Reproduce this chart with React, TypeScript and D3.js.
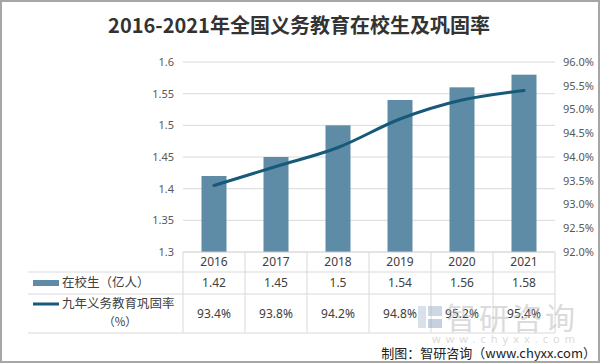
import React, { useEffect, useRef } from 'react';
import * as d3 from 'd3';

const years = ['2016', '2017', '2018', '2019', '2020', '2021'];
const students = [1.42, 1.45, 1.5, 1.54, 1.56, 1.58];
const rates = [93.4, 93.8, 94.2, 94.8, 95.2, 95.4];
const leftTicks = [1.3, 1.35, 1.4, 1.45, 1.5, 1.55, 1.6];
const rightTicks = [92, 92.5, 93, 93.5, 94, 94.5, 95, 95.5, 96];

const W = 600;
const H = 363;
const barColor = '#5e8ca6';
const lineColor = '#17597a';
const gridColor = '#d9d9d9';
const font = '"Noto Sans CJK SC", "Noto Sans", sans-serif';
const numFont = '"Noto Sans", "Noto Sans CJK SC", sans-serif';

export default function App() {
  const svgRef = useRef<SVGSVGElement>(null);

  useEffect(() => {
    if (!svgRef.current) return;
    const svg = d3.select(svgRef.current);
    svg.selectAll('*').remove();

    const x = d3.scaleBand<string>().domain(years).range([183, 555]).paddingInner(0).paddingOuter(0);
    const yL = d3.scaleLinear().domain([1.3, 1.6]).range([252, 62]);
    const yR = d3.scaleLinear().domain([92, 96]).range([252, 62]);
    const bw = 25;

    svg.append('rect').attr('x', 1).attr('y', 1).attr('width', W - 2).attr('height', H - 2)
      .attr('fill', '#fff').attr('stroke', '#a6a6a6').attr('stroke-width', 2);

    // title
    svg.append('text').attr('x', 299).attr('y', 33).attr('text-anchor', 'middle')
      .attr('font-family', font).attr('font-size', 20).attr('font-weight', 'bold').attr('fill', '#333')
      .text('2016-2021年全国义务教育在校生及巩固率');

    // grid
    svg.append('g').selectAll('line').data(leftTicks.slice(1)).join('line')
      .attr('x1', 183).attr('x2', 555).attr('y1', (d) => yL(d)).attr('y2', (d) => yL(d))
      .attr('stroke', gridColor).attr('stroke-width', 1);

    // left axis labels
    svg.append('g').selectAll('text').data(leftTicks).join('text')
      .attr('x', 174).attr('y', (d) => yL(d)).attr('dy', '0.35em').attr('text-anchor', 'end')
      .attr('font-family', numFont).attr('font-size', 11).attr('fill', '#595959')
      .text((d) => d3.format('')(d));

    // right axis labels
    svg.append('g').selectAll('text').data(rightTicks).join('text')
      .attr('x', 563).attr('y', (d) => yR(d)).attr('dy', '0.35em').attr('text-anchor', 'start')
      .attr('font-family', numFont).attr('font-size', 11).attr('fill', '#595959')
      .text((d) => d.toFixed(1) + '%');

    // bars
    svg.append('g').selectAll('rect').data(students).join('rect')
      .attr('x', (_, i) => x(years[i])! + x.bandwidth() / 2 - bw / 2)
      .attr('y', (d) => yL(d)).attr('width', bw).attr('height', (d) => 252 - yL(d))
      .attr('fill', barColor);

    // line
    const line = d3.line<number>()
      .x((_, i) => x(years[i])! + x.bandwidth() / 2)
      .y((d) => yR(d))
      .curve(d3.curveMonotoneX);
    svg.append('path').datum(rates).attr('d', line).attr('fill', 'none')
      .attr('stroke', lineColor).attr('stroke-width', 3).attr('stroke-linecap', 'round');

    // table
    const t = svg.append('g').attr('stroke', gridColor).attr('stroke-width', 1);
    t.append('line').attr('x1', 183).attr('x2', 555).attr('y1', 252).attr('y2', 252).attr('stroke', '#c8c8c8');
    [272, 294, 333].forEach((yy) => {
      t.append('line').attr('x1', 28).attr('x2', 555).attr('y1', yy).attr('y2', yy);
    });
    x.domain().concat(['end']).forEach((yr, i) => {
      const xx = 183 + i * x.bandwidth();
      t.append('line').attr('x1', xx).attr('x2', xx).attr('y1', 252).attr('y2', 333);
    });

    const cells = svg.append('g').attr('font-family', numFont).attr('text-anchor', 'middle').attr('fill', '#404040');
    years.forEach((yr, i) => {
      const cx = x(yr)! + x.bandwidth() / 2;
      cells.append('text').attr('x', cx).attr('y', 262).attr('dy', '0.35em').attr('font-size', 12).text(yr);
      cells.append('text').attr('x', cx).attr('y', 283).attr('dy', '0.35em').attr('font-size', 12).text(String(students[i]));
      cells.append('text').attr('x', cx).attr('y', 314).attr('dy', '0.35em').attr('font-size', 12).text(rates[i].toFixed(1) + '%');
    });

    // legend keys
    svg.append('rect').attr('x', 33).attr('y', 280).attr('width', 26).attr('height', 6).attr('fill', barColor);
    svg.append('line').attr('x1', 33).attr('x2', 59).attr('y1', 304).attr('y2', 304)
      .attr('stroke', lineColor).attr('stroke-width', 3);
    const lg = svg.append('g').attr('font-family', font).attr('font-size', 12.5).attr('fill', '#404040');
    lg.append('text').attr('x', 62).attr('y', 283).attr('dy', '0.35em').text('在校生（亿人）');
    lg.append('text').attr('x', 62).attr('y', 304).attr('dy', '0.35em').text('九年义务教育巩固率');
    lg.append('text').attr('x', 120).attr('y', 322).attr('dy', '0.35em').attr('text-anchor', 'middle')
      .attr('font-size', 11.5).text('（%）');

    // watermark
    const wm = svg.append('g').attr('opacity', 0.5);
    wm.append('rect').attr('x', 418).attr('y', 306).attr('width', 8).attr('height', 22).attr('fill', '#b5c3d6');
    wm.append('rect').attr('x', 428).attr('y', 306).attr('width', 14).attr('height', 10).attr('fill', '#9fb1c8');
    wm.append('rect').attr('x', 428).attr('y', 319).attr('width', 14).attr('height', 9).attr('fill', '#8ea3bf');
    wm.append('text').attr('x', 446).attr('y', 318).attr('dy', '0.35em').attr('font-family', font)
      .attr('font-size', 30).attr('fill', '#b8b8b8').attr('letter-spacing', 3).text('智研咨询');
    wm.append('text').attr('x', 432).attr('y', 339).attr('dy', '0.35em').attr('font-family', numFont)
      .attr('font-size', 11).attr('fill', '#b8b8b8').attr('letter-spacing', 5).text('www.chyxx.com');

    // source
    svg.append('text').attr('x', 596).attr('y', 353).attr('dy', '0.35em').attr('text-anchor', 'end')
      .attr('font-family', font).attr('font-size', 13).attr('fill', '#222')
      .text('制图：智研咨询（www.chyxx.com）');
  }, []);

  return (
    <div style={{ position: 'fixed', left: 0, top: 0 }}>
      <svg ref={svgRef} width={W} height={H} style={{ display: 'block' }} />
    </div>
  );
}
